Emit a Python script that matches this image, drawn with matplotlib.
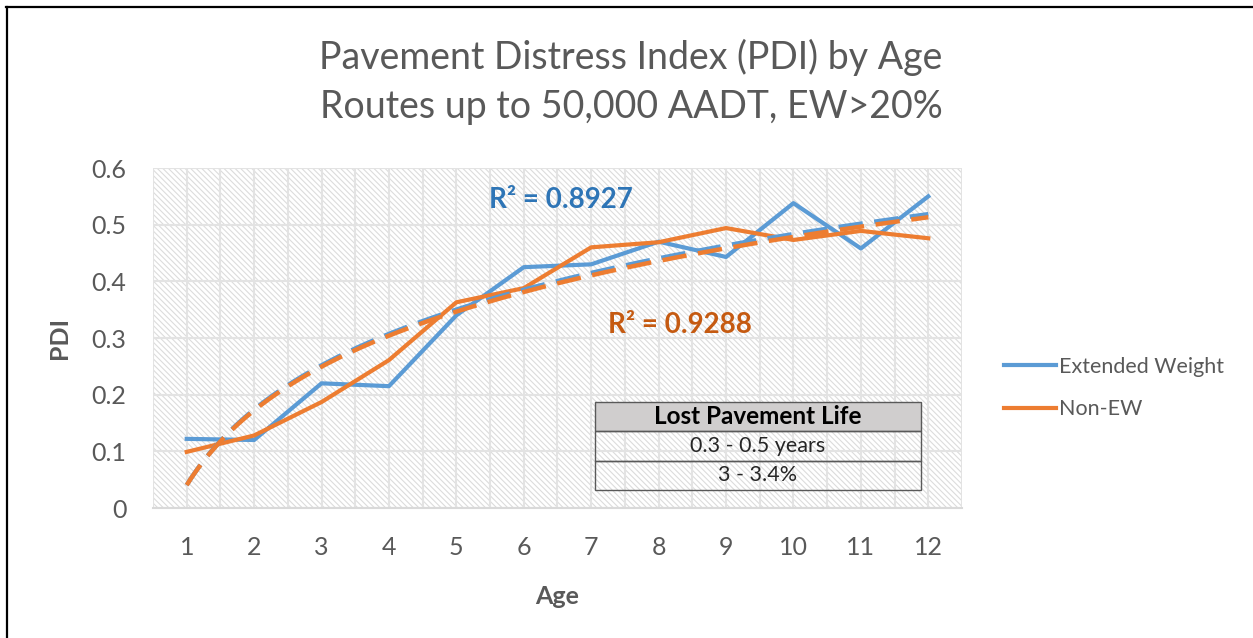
import numpy as np
import matplotlib
matplotlib.use("Agg")
import matplotlib.pyplot as plt
from matplotlib.patches import Rectangle
from matplotlib.lines import Line2D
from matplotlib.ticker import FixedLocator

plt.rcParams['font.family'] = ['Lato', 'DejaVu Sans']
plt.rcParams['hatch.linewidth'] = 0.8

# data
ages = np.arange(1, 13)
pdi_ew = [0.122, 0.120, 0.220, 0.215, 0.340, 0.425, 0.430, 0.470, 0.443, 0.538, 0.458, 0.550]
pdi_non_ew = [0.099, 0.128, 0.187, 0.261, 0.363, 0.388, 0.460, 0.469, 0.494, 0.473, 0.489, 0.476]
series_names = ['Extended Weight', 'Non-EW']
r2_labels = ['R² = 0.8927', 'R² = 0.9288']
table_header = 'Lost Pavement Life'
table_rows = ['0.3 - 0.5 years', '3 - 3.4%']

blue = '#5B9BD5'
orange = '#ED7D31'
txt = '#595959'

W, H = 1253, 638
fig = plt.figure(figsize=(W / 100, H / 100), dpi=100)
ax = fig.add_axes([153 / W, 1 - 508 / H, (962 - 153) / W, (508 - 168) / H])

# hatched plot area like the excel pattern fill
bg = Rectangle((0, 0), 1, 1, transform=ax.transAxes, facecolor='white',
               edgecolor='#DCDCDC', hatch='\\' * 6, linewidth=0, zorder=0)
ax.add_patch(bg)

ax.plot(ages, pdi_ew, color=blue, lw=3, zorder=3, label=series_names[0])
ax.plot(ages, pdi_non_ew, color=orange, lw=3, zorder=3, label=series_names[1])

# logarithmic trendlines
xs = np.linspace(1, 12, 200)
for vals, col in [(pdi_ew, blue), (pdi_non_ew, orange)]:
    a, b = np.polyfit(np.log(ages), vals, 1)
    ax.plot(xs, a * np.log(xs) + b, color=col, lw=3.2, dashes=(5.5, 2.6), zorder=4)

ax.text(6.55, 0.5435, r2_labels[0], color='#2E75B6', fontsize=20, fontweight='bold',
        ha='center', va='center', zorder=5)
ax.text(8.32, 0.323, r2_labels[1], color='#C55A11', fontsize=20, fontweight='bold',
        ha='center', va='center', zorder=5)

ax.set_xlim(0.5, 12.5)
ax.set_ylim(0, 0.6)
ax.set_xticks(ages)
ax.xaxis.set_minor_locator(FixedLocator(np.arange(0.5, 13, 1)))
ax.set_yticks(np.arange(0, 0.61, 0.1))
ax.set_yticklabels(['0', '0.1', '0.2', '0.3', '0.4', '0.5', '0.6'])
ax.grid(True, which='both', axis='x', color='#E3E3E3', lw=1.5, zorder=1)
ax.grid(True, which='major', axis='y', color='#E3E3E3', lw=1.5, zorder=1)
ax.tick_params(which='both', length=0, labelsize=18, labelcolor=txt)
ax.tick_params(axis='x', pad=20)
ax.tick_params(axis='y', pad=19)
for s in ['top', 'right', 'left']:
    ax.spines[s].set_visible(False)
ax.spines['bottom'].set_color('#D9D9D9')
ax.spines['bottom'].set_linewidth(1.5)

ax.set_xlabel('Age', fontsize=18, fontweight='bold', color=txt, labelpad=19)
ax.set_ylabel('PDI', fontsize=18, fontweight='bold', color=txt, labelpad=15)

# table
tb = ax.table(cellText=[[table_header], [table_rows[0]], [table_rows[1]]],
              cellLoc='center', bbox=[0.5464, 0.053, 0.403, 0.259], zorder=6)
tb.auto_set_font_size(False)
for (r, c), cell in tb.get_celld().items():
    cell.set_edgecolor('#595959')
    cell.set_linewidth(1.0)
    if r == 0:
        cell.set_facecolor('#D0CECE')
        cell.get_text().set_fontweight('bold')
        cell.get_text().set_fontsize(17.5)
        cell.get_text().set_color('black')
    else:
        cell.set_facecolor('none')
        cell.get_text().set_fontsize(15.5)
        cell.get_text().set_color('#262626')

fig.text(0.5036, 1 - 57 / H, 'Pavement Distress Index (PDI) by Age', fontsize=27,
         color=txt, ha='center', va='center')
fig.text(0.5036, 1 - 107 / H, 'Routes up to 50,000 AADT, EW>20%', fontsize=27,
         color=txt, ha='center', va='center')

ax.legend(loc='center left', bbox_to_anchor=(985 / W, 1 - 388 / H),
          bbox_transform=fig.transFigure, frameon=False, fontsize=15.5,
          labelcolor=txt, handlelength=2.4, handletextpad=0.15, labelspacing=1.05)

# outer border (top and left only)
fig.add_artist(Line2D([6 / W, 1], [1 - 7 / H, 1 - 7 / H], color='black', lw=1.6,
                      transform=fig.transFigure))
fig.add_artist(Line2D([7 / W, 7 / W], [0, 1 - 7 / H], color='black', lw=1.6,
                      transform=fig.transFigure))

fig.savefig('out.png', dpi=100)
